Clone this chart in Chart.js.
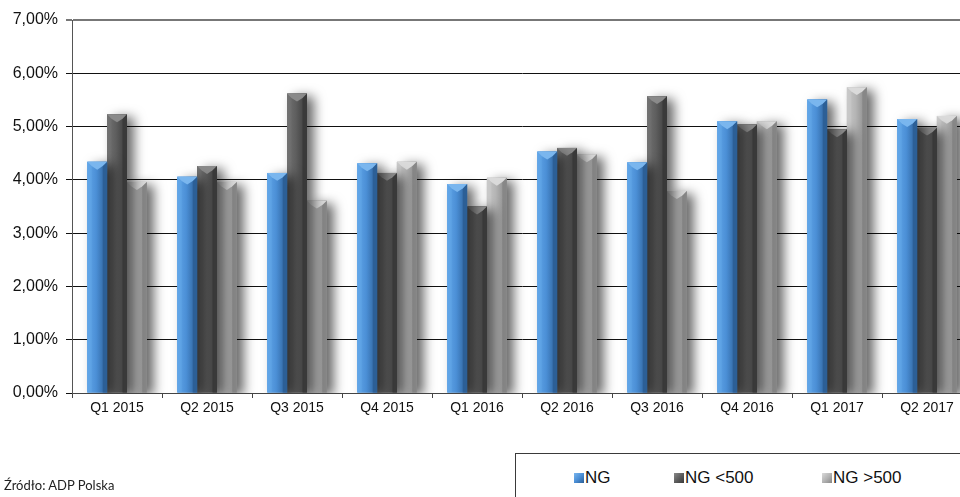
<!DOCTYPE html>
<html>
<head>
<meta charset="utf-8">
<script src="https://cdn.jsdelivr.net/npm/chart.js@4/dist/chart.umd.min.js"></script>
<style>
  html, body { margin: 0; padding: 0; width: 960px; height: 497px; overflow: hidden; background: #fff; }
  #wrap { position: relative; width: 960px; height: 497px; overflow: hidden; }
  #c { position: absolute; left: 0; top: 0; }
  #legend { position: absolute; left: 515px; top: 453px; width: 500px; height: 60px; border: 1px solid #3a3a3a; box-sizing: border-box; background: #fff; }
  .li { position: absolute; top: 14px; font: 17px Arial, "Liberation Sans", sans-serif; color: #111; white-space: nowrap; }
  .sw { display: inline-block; width: 10px; height: 10px; margin-right: 1px; vertical-align: 0px; }
  #src { position: absolute; left: 4px; top: 477px; font: 13px Lato, "Open Sans", sans-serif; color: #222; }
</style>
</head>
<body>
<div id="wrap">
  <canvas id="c" width="990" height="497"></canvas>
  <div id="legend"></div>
  <div id="src">Źródło: ADP Polska</div>
</div>
<script>
const categories = ["Q1 2015","Q2 2015","Q3 2015","Q4 2015","Q1 2016","Q2 2016","Q3 2016","Q4 2016","Q1 2017","Q2 2017"];
const seriesNames = ["NG","NG <500","NG >500"];
const ng      = [4.34, 4.06, 4.13, 4.31, 3.92, 4.53, 4.33, 5.10, 5.51, 5.14];
const ngSmall = [5.23, 4.26, 5.62, 4.13, 3.50, 4.60, 5.57, 5.04, 4.95, 4.98];
const ngLarge = [3.96, 3.96, 3.61, 4.34, 4.04, 4.48, 3.79, 5.10, 5.74, 5.20];
const yTicks  = [0, 1, 2, 3, 4, 5, 6, 7];

const palettes = [
  { face: "#4b8fd6", light: "#62a6e8", dark: "#2c5f96", top: "#7ab6ee" },
  { face: "#5e5e5e", light: "#727272", dark: "#3a3a3a", top: "#8a8a8a" },
  { face: "#b4b4b4", light: "#c9c9c9", dark: "#878787", top: "#dadada" }
];

// legend (HTML text)
const legendPos = [58, 158, 306];
const lg = document.getElementById("legend");
seriesNames.forEach((n, i) => {
  const d = document.createElement("div");
  d.className = "li";
  d.style.left = legendPos[i] + "px";
  const p = palettes[i];
  d.innerHTML = '<span class="sw" style="background:linear-gradient(135deg,' + p.top + ' 0%,' + p.face + ' 50%,' + p.dark + ' 100%)"></span>' + n;
  lg.appendChild(d);
});

const bevelPlugin = {
  id: "bevel",
  beforeDatasetDraw(chart, args) {
    const ctx = chart.ctx;
    ctx.save();
    ctx.shadowColor = "rgba(0,0,0,0.6)";
    ctx.shadowBlur = 12;
    ctx.shadowOffsetX = 7;
    ctx.shadowOffsetY = 3;
  },
  afterDatasetDraw(chart, args) {
    const ctx = chart.ctx;
    ctx.restore();
    const p = palettes[args.index];
    const meta = args.meta;
    ctx.save();
    meta.data.forEach(el => {
      const { x, y, base, width } = el.getProps(["x","y","base","width"], true);
      const l = x - width / 2, r = x + width / 2, t = y, b = base;
      const e = Math.max(3, width * 0.22);
      const g = ctx.createLinearGradient(l, 0, r, 0);
      g.addColorStop(0, p.light);
      g.addColorStop(0.45, p.face);
      g.addColorStop(1, p.dark);
      ctx.fillStyle = g;
      ctx.fillRect(l, t, width, b - t);
      ctx.fillStyle = p.light;
      ctx.beginPath();
      ctx.moveTo(l, t); ctx.lineTo(l + e, t + e); ctx.lineTo(l + e, b); ctx.lineTo(l, b); ctx.closePath();
      ctx.globalAlpha = 0.6; ctx.fill(); ctx.globalAlpha = 1;
      ctx.fillStyle = p.dark;
      ctx.beginPath();
      ctx.moveTo(r, t); ctx.lineTo(r - e, t + e); ctx.lineTo(r - e, b); ctx.lineTo(r, b); ctx.closePath();
      ctx.fill();
      ctx.fillStyle = p.top;
      ctx.beginPath();
      ctx.moveTo(l, t); ctx.lineTo(r, t); ctx.lineTo(r - e, t + e); ctx.lineTo(x, t + width * 0.4); ctx.lineTo(l + e, t + e); ctx.closePath();
      ctx.fill();
    });
    ctx.restore();
  }
};

const fmt = v => v.toFixed(2).replace(".", ",") + "%";
const FONT = "Arial, 'Liberation Sans', Helvetica, sans-serif";

new Chart(document.getElementById("c"), {
  type: "bar",
  data: {
    labels: categories,
    datasets: [
      { label: seriesNames[0], data: ng,      backgroundColor: palettes[0].face },
      { label: seriesNames[1], data: ngSmall, backgroundColor: palettes[1].face },
      { label: seriesNames[2], data: ngLarge, backgroundColor: palettes[2].face }
    ]
  },
  plugins: [bevelPlugin],
  options: {
    responsive: false,
    animation: false,
    devicePixelRatio: 1,
    layout: { padding: { top: 20, left: 0, right: 18, bottom: 74 } },
    plugins: { legend: { display: false }, tooltip: { enabled: false } },
    datasets: { bar: { categoryPercentage: 0.66, barPercentage: 1.0, borderWidth: 0 } },
    scales: {
      x: {
        offset: true,
        grid: { offset: true, drawOnChartArea: false, drawTicks: true, tickLength: 5, color: "#444" },
        border: { display: true, color: "#444", width: 1 },
        ticks: { color: "#111", font: { family: FONT, size: 14 }, padding: 2, maxRotation: 0, autoSkip: false },
        afterFit: s => { s.height = 30; }
      },
      y: {
        min: 0, max: 7,
        afterBuildTicks: s => { s.ticks = yTicks.map(v => ({ value: v })); },
        grid: { color: c => c.tick && c.tick.value === 7 ? "#777" : "#111", lineWidth: c => c.tick && c.tick.value === 7 ? 2 : 1, tickLength: 6, drawTicks: true },
        border: { display: true, color: "#555", width: 1 },
        ticks: { color: "#111", font: { family: FONT, size: 16 }, padding: 8, callback: v => fmt(v) },
        afterFit: s => { s.width = 72; }
      }
    }
  }
});
</script>
</body>
</html>
